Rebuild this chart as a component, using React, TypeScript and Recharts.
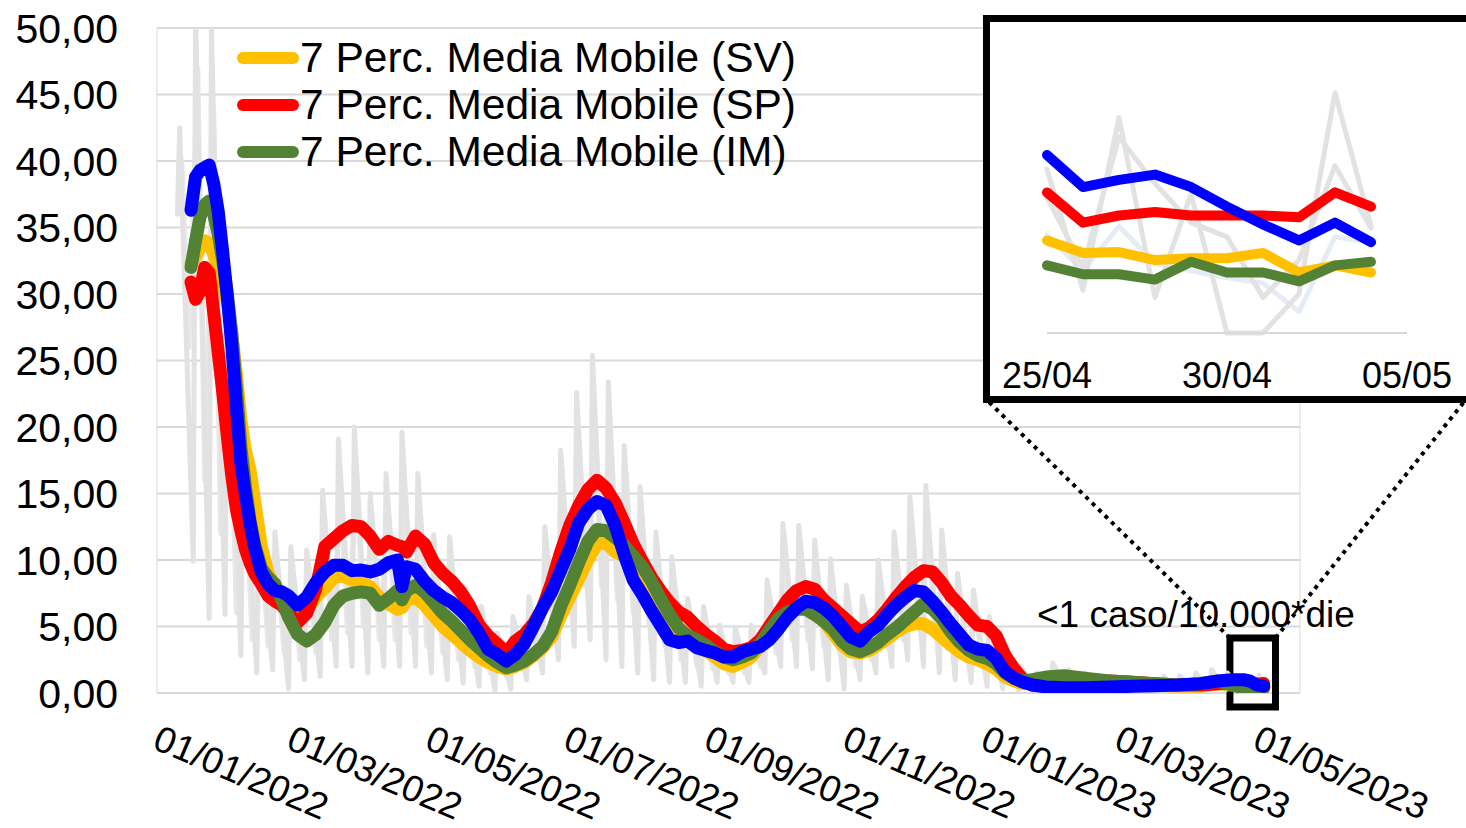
import React from "react";
import {
  LineChart,
  Line,
  XAxis,
  YAxis,
  CartesianGrid,
  ReferenceArea,
  ReferenceLine,
} from "recharts";

const FONT = '"Liberation Sans", Arial, sans-serif';

const SV_COLOR = "#FFC000";
const SP_COLOR = "#FF0000";
const IM_COLOR = "#548235";
const BL_COLOR = "#0000FF";
const RAW_COLOR = "#E2E2E2";
const RAW_COLOR_2 = "#E8E8E8";

// days counted from 01/01/2022
const monthDays = [0, 31, 59, 90, 120, 151, 181, 212, 243, 273, 304, 334, 365, 396, 424, 455, 485];
const labelDays = [0, 59, 120, 181, 243, 304, 365, 424, 485];
const dateLabels = [
  "01/01/2022",
  "01/03/2022",
  "01/05/2022",
  "01/07/2022",
  "01/09/2022",
  "01/11/2022",
  "01/01/2023",
  "01/03/2023",
  "01/05/2023",
];
const yTicks = [0, 5, 10, 15, 20, 25, 30, 35, 40, 45, 50];

const legendLabels = [
  "7 Perc. Media Mobile (SV)",
  "7 Perc. Media Mobile (SP)",
  "7 Perc. Media Mobile (IM)",
];
const legendColors = [SV_COLOR, SP_COLOR, IM_COLOR];

// moving averages
const maDays = [
  15, 17, 19, 21, 23, 25, 27, 29, 31, 33,
  35, 37, 39, 41, 43, 46, 49, 52, 55, 58,
  62, 66, 70, 74, 78, 82, 86, 90, 94, 98,
  102, 106, 108, 110, 114, 118, 122, 126, 130, 134,
  138, 142, 146, 150, 154, 158, 162, 166, 170, 174,
  178, 182, 186, 190, 194, 198, 202, 206, 210, 214,
  218, 222, 226, 230, 234, 238, 242, 246, 250, 254,
  258, 262, 266, 270, 274, 278, 282, 286, 290, 294,
  298, 302, 306, 310, 314, 318, 322, 326, 330, 334,
  338, 342, 346, 350, 354, 358, 362, 366, 370, 374,
  378, 382, 386, 392, 400, 410, 420, 430, 440, 450,
  460, 468, 474, 479, 482, 485, 488,
];

const sv = [
  32.3, 32.8, 33.5, 34.0, 33.8, 33.0, 32.0, 30.5, 29.5, 27.0,
  24.0, 20.5, 18.2, 16.8, 14.5, 11.0, 9.0, 8.0, 7.2, 6.6,
  5.8, 6.2, 7.2, 7.9, 8.7, 8.8, 8.5, 8.3, 8.0, 7.2,
  6.7, 6.3, 6.4, 7.0, 7.2, 6.6, 5.8, 5.0, 4.4, 3.8,
  3.2, 2.7, 2.3, 2.0, 1.8, 2.0, 2.3, 2.8, 3.4, 4.2,
  5.8, 7.2, 8.6, 10.0, 11.2, 11.3, 10.6, 10.3, 9.6, 8.8,
  7.8, 6.6, 5.4, 4.5, 3.9, 3.6, 3.2, 2.7, 2.2, 2.0,
  2.3, 2.7, 3.5, 4.5, 5.4, 6.0, 6.4, 6.6, 6.1, 5.4,
  4.5, 3.6, 3.1, 3.0, 3.2, 3.6, 4.1, 4.6, 5.0, 5.2,
  5.2, 4.8, 4.2, 3.6, 3.1, 2.7, 2.5, 2.2, 1.8, 1.2,
  0.9, 0.7, 0.8, 0.9, 1.0, 0.9, 0.8, 0.7, 0.6, 0.5,
  0.5, 0.7, 0.6, 0.52, 0.41, 0.45, 0.34,
];

const sp = [
  30.9, 29.6, 30.2, 32.0, 31.6, 28.6, 25.6, 22.6, 19.3, 16.3,
  13.8, 12.2, 10.8, 9.8, 9.0, 8.2, 7.3, 6.9, 6.6, 6.0,
  5.3, 6.0, 7.8, 11.0, 11.6, 12.2, 12.6, 12.5, 11.8, 10.8,
  11.4, 11.1, 11.0, 10.6, 11.8, 11.2, 9.8, 9.0, 8.4, 7.6,
  6.5, 5.1, 4.3, 3.7, 3.0, 3.9, 4.4, 5.2, 6.4, 8.3,
  10.6, 12.6, 14.1, 15.3, 16.0, 15.4, 14.3, 12.8, 11.2, 9.9,
  8.7, 7.7, 6.8, 6.1, 5.7, 5.0, 4.4, 3.9, 3.3, 3.1,
  3.2, 3.4, 4.0, 5.0, 6.0, 7.0, 7.7, 8.0, 7.8, 7.0,
  6.4, 5.8, 5.2, 4.6, 4.9, 5.5, 6.3, 7.2, 8.0, 8.7,
  9.2, 9.1, 8.3, 7.3, 6.6, 5.8, 5.1, 5.0, 4.3, 2.8,
  1.8, 1.0, 0.6, 0.6, 0.7, 0.8, 0.9, 0.8, 0.7, 0.6,
  0.6, 0.7, 0.8, 0.79, 0.68, 0.66, 0.71,
];

const im = [
  32.0, 34.0, 35.8, 36.7, 37.0, 36.0, 34.5, 32.5, 30.0, 27.0,
  23.0, 18.5, 15.5, 13.0, 11.2, 9.4, 8.7, 8.2, 7.0, 5.7,
  4.4, 3.9, 4.4, 5.3, 6.6, 7.3, 7.5, 7.6, 7.5, 6.6,
  7.1, 7.7, 7.0, 7.7, 8.1, 7.6, 6.8, 6.0, 5.4, 4.7,
  4.0, 3.4, 2.8, 2.3, 1.9, 2.1, 2.4, 2.9, 3.5, 4.6,
  6.5, 8.1, 9.8, 11.4, 12.3, 12.2, 11.7, 11.1, 10.3, 9.5,
  8.4, 7.1, 5.9, 4.9, 4.3, 4.0, 3.6, 3.1, 2.7, 2.5,
  2.7, 3.0, 3.7, 4.7, 5.6, 6.1, 6.3, 6.3, 5.9, 5.4,
  4.8, 3.9, 3.3, 3.1, 3.4, 3.8, 4.4, 4.9, 5.5, 6.1,
  6.7, 6.3, 5.6, 4.6, 3.8, 3.2, 2.8, 2.6, 2.2, 1.5,
  1.1, 0.9, 1.0, 1.2, 1.3, 1.1, 0.9, 0.8, 0.7, 0.6,
  0.7, 0.9, 0.6, 0.38, 0.3, 0.34, 0.4,
];

const bl = [
  36.3, 38.8, 39.3, 39.5, 39.7, 38.3, 36.2, 33.1, 29.8, 26.1,
  21.5, 17.3, 14.9, 12.8, 11.0, 9.1, 8.2, 7.7, 7.6, 7.3,
  6.6, 7.2, 8.3, 9.1, 9.6, 9.6, 9.2, 9.25, 9.1, 9.3,
  9.8, 10.0, 8.0, 9.5, 9.3, 8.4, 7.7, 7.2, 6.8, 6.2,
  5.5, 4.5, 3.3, 2.9, 2.4, 2.9, 3.7, 5.0, 6.4, 7.6,
  9.2, 10.8, 12.8, 13.8, 14.4, 14.1, 12.6, 10.4, 8.5, 7.4,
  6.2, 5.1, 4.0, 3.8, 3.9, 3.4, 3.2, 3.0, 2.7, 2.7,
  3.1, 3.3, 3.5, 4.0, 4.8, 5.7, 6.4, 6.9, 6.8, 6.4,
  5.8, 5.0, 4.2, 3.9, 4.6, 5.1, 5.9, 6.6, 7.2, 7.7,
  7.6, 6.9, 6.1, 5.2, 4.4, 3.6, 3.3, 3.2, 2.6, 1.6,
  1.1, 0.8, 0.6, 0.45, 0.4, 0.4, 0.45, 0.5, 0.55, 0.6,
  0.7, 0.9, 1.0, 1.0, 0.89, 0.61, 0.51,
];

// daily values: weekly report peaks (tuesday) and the monday low before them
const peakDays = [
  10, 17, 24, 31, 38, 45, 52, 59, 66, 73,
  80, 87, 94, 101, 108, 115, 122, 129, 136, 143,
  150, 157, 164, 171, 178, 185, 192, 199, 206, 213,
  220, 227, 234, 241, 248, 255, 262, 269, 276, 283,
  290, 297, 304, 311, 318, 325, 332, 339, 346, 353,
  360, 367, 374, 381, 388, 395, 402, 409, 416, 423,
  430, 437, 444, 451, 458, 465, 472, 479, 486,
];
const rawAPeak = [
  42.5, 51, 50, 31, 19, 13.4, 12.1, 11, 10.75, 15.25,
  19.1, 20, 15, 16.5, 19.6, 16.5, 11.9, 11.75, 7.5, 6.5,
  4.5, 5.75, 7.25, 12.5, 18.25, 22.6, 25.4, 23.4, 18.6, 15.5,
  12.1, 10.25, 7.1, 6.5, 5.1, 4.9, 5.1, 8.5, 12.75, 12.6,
  11.5, 10.1, 8.1, 7.25, 10, 12.1, 14.75, 15.6, 12.25, 9.0,
  7.75, 5.75, 3.1, 2.0, 1.5, 2.25, 1.75, 1.5, 1.25, 1.2,
  1.1, 1.0, 1.25, 1.3, 1.5, 1.75, 1.5, 1.2, 1.35,
];
const rawALow = [
  36, 9.9, 5.6, 5.9, 2.8, 1.5, 1.75, 0.3, 1.0, 1.25,
  2, 2, 1.5, 2, 2, 2, 1.5, 1.0, 0.75, 0.5,
  0.2, 0.3, 1.0, 1.5, 2.5, 3.5, 4, 2.5, 2, 1.5,
  1, 0.8, 0.8, 0.5, 0.8, 0.8, 0.8, 1.5, 2, 2,
  1.8, 1.0, 0.3, 1.0, 1.5, 2, 2.5, 2, 1.5, 1,
  0.8, 0.5, 0.3, 0.2, 0.2, 0.3, 0.2, 0.2, 0.2, 0.2,
  0.2, 0.2, 0.2, 0.2, 0.3, 0.2, 0.2, 0.3, 0.2,
];
const rawBHigh = [
  40, 47, 44, 24, 15, 11, 10, 8.5, 9.5, 13,
  14.5, 16, 13, 14, 15, 13, 10, 8.5, 6, 4.5,
  3.5, 4.5, 6, 10, 15, 19, 20, 18, 16.5, 12.5,
  10, 8, 6, 5, 4.5, 4.2, 4.8, 7, 10, 10.5,
  9, 8, 6, 6.5, 8.5, 10, 12, 12.5, 10, 7.5,
  6, 4.5, 2.5, 1.6, 1.2, 1.6, 1.4, 1.2, 1.0, 0.9,
  0.9, 0.8, 1.0, 1.1, 1.2, 1.4, 1.2, 1.0, 1.1,
];
const rawBLow = [
  26, 16, 12, 6, 4, 3.5, 3, 2.5, 3, 4,
  4.5, 5, 4, 4, 4.5, 3.5, 3, 2.5, 2, 1.5,
  1.2, 1.8, 2.5, 4, 6, 8, 8, 7, 6, 5,
  3.5, 2.5, 2, 1.8, 1.5, 1.5, 2, 3, 4, 4,
  3.5, 3, 2, 2.5, 3.5, 4, 5, 4.5, 3.5, 2.8,
  2.2, 1.5, 0.8, 0.5, 0.5, 0.6, 0.5, 0.4, 0.4, 0.4,
  0.4, 0.4, 0.4, 0.4, 0.5, 0.5, 0.5, 0.4, 0.5,
];

// zoom: 25/04/2023 - 04/05/2023
const insetDays = [0, 1, 2, 3, 4, 5, 6, 7, 8, 9];
const insetTicks = [0, 5, 10];
const insetLabels = ["25/04", "30/04", "05/05"];
const insetSV = [0.52, 0.45, 0.455, 0.41, 0.42, 0.42, 0.45, 0.34, 0.38, 0.34];
const insetSP = [0.79, 0.62, 0.66, 0.68, 0.66, 0.66, 0.66, 0.65, 0.79, 0.71];
const insetIM = [0.38, 0.33, 0.33, 0.3, 0.4, 0.34, 0.34, 0.29, 0.38, 0.4];
const insetBL = [1.0, 0.82, 0.86, 0.89, 0.82, 0.71, 0.61, 0.52, 0.62, 0.51];
const insetRawA = [0.92, 0.24, 1.21, 0.2, 0.78, 0.0, 0.0, 0.22, 1.35, 0.6];
const insetRawB = [0.76, 0.37, 1.1, 0.84, 0.62, 0.54, 0.2, 0.41, 0.94, 0.59];
const insetRawC = [0.55, 0.35, 0.6, 0.39, 0.35, 0.31, 0.28, 0.12, 0.54, 0.51];

const toRows = (days: number[], vals: number[]) => days.map((d, i) => ({ d, v: vals[i] }));

const rawARows = peakDays.flatMap((p, i) => [
  { d: p - 1, v: rawALow[i] },
  { d: p, v: rawAPeak[i] },
]);
const rawBRows = peakDays.flatMap((p, i) => [
  { d: p + 1, v: rawBHigh[i] },
  { d: p + 4, v: rawBLow[i] },
]);

const fmt = (v: number) => v.toFixed(2).replace(".", ",");

function DateTick(props: any) {
  const { x, y, payload } = props;
  const label = dateLabels[labelDays.indexOf(payload.value)];
  const tx = x - 6;
  const ty = y + 55;
  return (
    <text x={tx} y={ty} transform={`rotate(23 ${tx} ${ty})`} fontSize={37} fontFamily={FONT} fill="#000">
      {label}
    </text>
  );
}

function InsetTick(props: any) {
  const { x, y, payload } = props;
  return (
    <text x={x} y={y + 55} textAnchor="middle" fontSize={36} fontFamily={FONT} fill="#000">
      {insetLabels[insetTicks.indexOf(payload.value)]}
    </text>
  );
}

const maLine = (rows: any[], color: string, width: number, key: string) => (
  <Line
    key={key}
    data={rows}
    dataKey="v"
    stroke={color}
    strokeWidth={width}
    strokeLinecap="round"
    strokeLinejoin="round"
    dot={false}
    activeDot={false}
    isAnimationActive={false}
  />
);

function Inset() {
  return (
    <div
      style={{
        position: "absolute",
        left: 983,
        top: 15,
        width: 490,
        height: 388,
        border: "7px solid #000",
        boxSizing: "border-box",
        background: "#fff",
      }}
    >
      <LineChart width={476} height={374} margin={{ top: 44, right: 59, bottom: 0, left: 57 }}>
        <XAxis
          type="number"
          dataKey="d"
          domain={[0, 10]}
          ticks={insetTicks}
          tick={(p: any) => <InsetTick {...p} />}
          height={63}
          axisLine={{ stroke: "#d9d9d9", strokeWidth: 2 }}
          tickLine={false}
          tickSize={0}
          tickMargin={0}
        />
        <YAxis hide domain={[0, 1.5]} />
        {maLine(toRows(insetDays, insetRawC), "#E6ECF6", 5, "rc")}
        {maLine(toRows(insetDays, insetRawB), RAW_COLOR, 5, "rb")}
        {maLine(toRows(insetDays, insetRawA), RAW_COLOR, 5, "ra")}
        {maLine(toRows(insetDays, insetSV), SV_COLOR, 10, "sv")}
        {maLine(toRows(insetDays, insetSP), SP_COLOR, 10, "sp")}
        {maLine(toRows(insetDays, insetIM), IM_COLOR, 10, "im")}
        {maLine(toRows(insetDays, insetBL), BL_COLOR, 10, "bl")}
      </LineChart>
    </div>
  );
}

export default function App() {
  return (
    <div
      style={{
        position: "absolute",
        left: 0,
        top: 0,
        width: 1466,
        height: 828,
        overflow: "hidden",
        background: "#fff",
        fontFamily: FONT,
      }}
    >
      <LineChart width={1466} height={828} margin={{ top: 28, right: 166, bottom: 0, left: 0 }}>
        <XAxis xAxisId="grid" type="number" dataKey="d" domain={[0, 504]} ticks={monthDays} hide />
        <CartesianGrid xAxisId="grid" horizontal={false} stroke="#ececec" strokeWidth={2} />
        <CartesianGrid vertical={false} stroke="#d9d9d9" strokeWidth={2} />
        <XAxis
          type="number"
          dataKey="d"
          domain={[0, 504]}
          ticks={labelDays}
          tick={(p: any) => <DateTick {...p} />}
          height={135}
          axisLine={false}
          tickLine={false}
          tickSize={0}
          tickMargin={0}
        />
        <YAxis
          width={157}
          domain={[0, 50]}
          ticks={yTicks}
          allowDataOverflow
          tickFormatter={fmt}
          tick={{ fontSize: 41, fill: "#000", fontFamily: FONT }}
          axisLine={false}
          tickLine={false}
          tickSize={0}
          tickMargin={39}
        />
        {maLine(rawBRows, RAW_COLOR_2, 5, "rawB")}
        {maLine(rawARows, RAW_COLOR, 5, "rawA")}
        {maLine(toRows(maDays, sv), SV_COLOR, 13, "sv")}
        {maLine(toRows(maDays, sp), SP_COLOR, 13, "sp")}
        {maLine(toRows(maDays, im), IM_COLOR, 13, "im")}
        {maLine(toRows(maDays, bl), BL_COLOR, 13, "bl")}
        <ReferenceArea
          x1={473.1}
          x2={493.2}
          y1={-1.05}
          y2={4.14}
          ifOverflow="visible"
          fill="none"
          fillOpacity={0}
          stroke="#000"
          strokeWidth={7}
        />
        <ReferenceLine
          segment={[{ x: 473.1, y: 4.14 }, { x: 365.7, y: 22.07 }]}
          ifOverflow="visible"
          stroke="#000"
          strokeWidth={4}
          strokeDasharray="4 5"
        />
        <ReferenceLine
          segment={[{ x: 493.2, y: 4.14 }, { x: 577.2, y: 22.07 }]}
          ifOverflow="visible"
          stroke="#000"
          strokeWidth={4}
          strokeDasharray="4 5"
        />
      </LineChart>

      <svg
        width={1466}
        height={828}
        style={{ position: "absolute", left: 0, top: 0, pointerEvents: "none" }}
      >
        <text x={1037} y={627} fontSize={37} fontFamily={FONT} fill="#000">
          {"<1 caso/10.000*die"}
        </text>
      </svg>

      <div style={{ position: "absolute", left: 236, top: 34 }}>
        {legendLabels.map((label, i) => (
          <div key={label} style={{ display: "flex", alignItems: "center", height: 47 }}>
            <svg width={64} height={14}>
              <line
                x1={7}
                y1={7}
                x2={57}
                y2={7}
                stroke={legendColors[i]}
                strokeWidth={12}
                strokeLinecap="round"
              />
            </svg>
            <span style={{ fontSize: 42.5, lineHeight: "47px", color: "#000", whiteSpace: "nowrap" }}>
              {label}
            </span>
          </div>
        ))}
      </div>

      <Inset />
    </div>
  );
}
